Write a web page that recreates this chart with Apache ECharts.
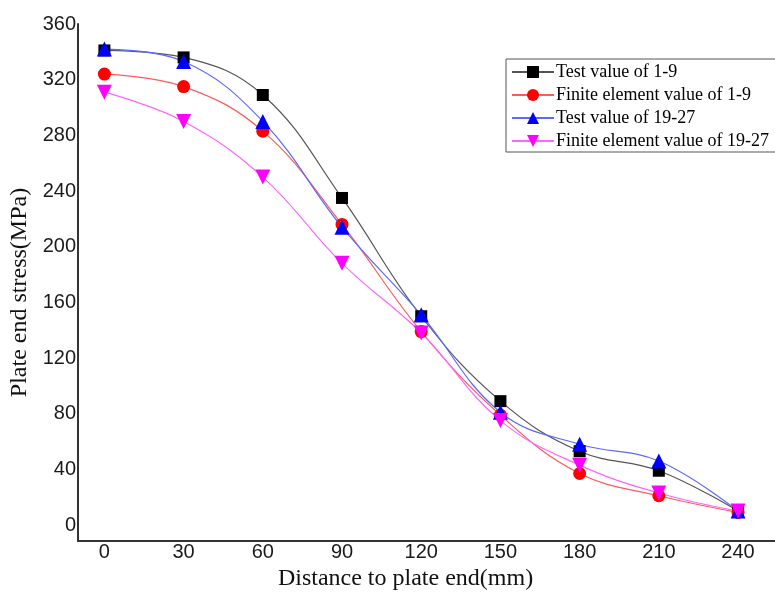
<!DOCTYPE html>
<html>
<head>
<meta charset="utf-8">
<script src="https://cdn.jsdelivr.net/npm/echarts@6/dist/echarts.min.js"></script>
<style>
  html, body { margin: 0; padding: 0; background: #fff; }
  #chart { width: 775px; height: 592px; }
</style>
</head>
<body>
<div id="chart"></div>
<script>
// distance to plate end (mm)
let distances = [0, 30, 60, 90, 120, 150, 180, 210, 240];

// plate end stress (MPa)
let test1to9 = [341, 336, 309, 235, 150, 89, 53, 39, 10];
let fem1to9 = [324, 315, 283, 216, 139, 79, 37, 21, 9];
let test19to27 = [342, 333, 290, 214, 151, 81, 58, 46, 10];
let fem19to27 = [311, 290, 250, 188, 138, 75, 43, 23, 10];

let yTicks = [0, 40, 80, 120, 160, 200, 240, 280, 320, 360];
let xTicks = [0, 30, 60, 90, 120, 150, 180, 210, 240];

let seriesNames = [
	'Test value of 1-9',
	'Finite element value of 1-9',
	'Test value of 19-27',
	'Finite element value of 19-27'
];

function pairs(values) {
	return distances.map(function(d, i) {
		return [d, values[i]];
	});
}

let myChart = echarts.init(document.getElementById('chart'), null, { renderer: 'canvas' });

function makeSeries(name, values, symbol, size, rotate, markColor, lineColor) {
	return {
		name: name,
		type: 'line',
		data: pairs(values),
		smooth: 0.4,
		symbol: symbol,
		symbolSize: size,
		symbolRotate: rotate,
		showAllSymbol: true,
		itemStyle: { color: markColor },
		lineStyle: { color: lineColor, width: 1.2 },
		emphasis: { disabled: true }
	};
}

let option = {
	backgroundColor: '#fff',
	animation: false,
	grid: {
		left: 78,
		right: 0,
		top: 24,
		bottom: 51,
		outerBoundsMode: 'none',
		containLabel: false
	},
	legend: {
		orient: 'vertical',
		left: 506,
		top: 59,
		padding: [3, 10, 1, 5],
		itemGap: 3,
		itemWidth: 42,
		itemHeight: 15,
		borderColor: '#555',
		borderWidth: 1,
		textStyle: {
			fontFamily: 'Liberation Serif',
			fontSize: 18,
			lineHeight: 20,
			color: '#000',
			padding: [0, 0, 0, -3]
		},
		data: seriesNames
	},
	xAxis: {
		type: 'value',
		min: -10,
		max: 254,
		name: 'Distance to plate end(mm)',
		nameLocation: 'middle',
		nameGap: 24,
		nameTextStyle: {
			fontFamily: 'Liberation Serif',
			fontSize: 24,
			color: '#111',
			padding: [0, 42, 0, 0]
		},
		splitLine: { show: false },
		axisTick: { show: false },
		axisLine: { onZero: false, lineStyle: { color: '#333', width: 2 } },
		axisLabel: {
			customValues: xTicks,
			fontFamily: 'Liberation Sans',
			fontSize: 20,
			color: '#1a1a1a',
			margin: 1
		}
	},
	yAxis: {
		type: 'value',
		min: -11.5,
		max: 360,
		name: 'Plate end stress(MPa)',
		nameLocation: 'middle',
		nameGap: 41,
		nameTextStyle: {
			fontFamily: 'Liberation Serif',
			fontSize: 24,
			color: '#111',
			padding: [0, 20, 0, 0]
		},
		splitLine: { show: false },
		axisTick: { show: false },
		axisLine: { show: true, onZero: false, lineStyle: { color: '#333', width: 2 } },
		axisLabel: {
			customValues: yTicks,
			fontFamily: 'Liberation Sans',
			fontSize: 20,
			color: '#1a1a1a',
			margin: 2
		}
	},
	series: [
		makeSeries(seriesNames[0], test1to9, 'rect', 12, 0, '#000', '#555'),
		makeSeries(seriesNames[1], fem1to9, 'circle', 13, 0, '#ff0000', '#ff5a5a'),
		makeSeries(seriesNames[2], test19to27, 'triangle', 15, 0, '#0000ff', '#5a6aff'),
		makeSeries(seriesNames[3], fem19to27, 'triangle', 15, 180, '#ff00ff', '#ff66ff')
	]
};

myChart.setOption(option);
</script>
</body>
</html>
